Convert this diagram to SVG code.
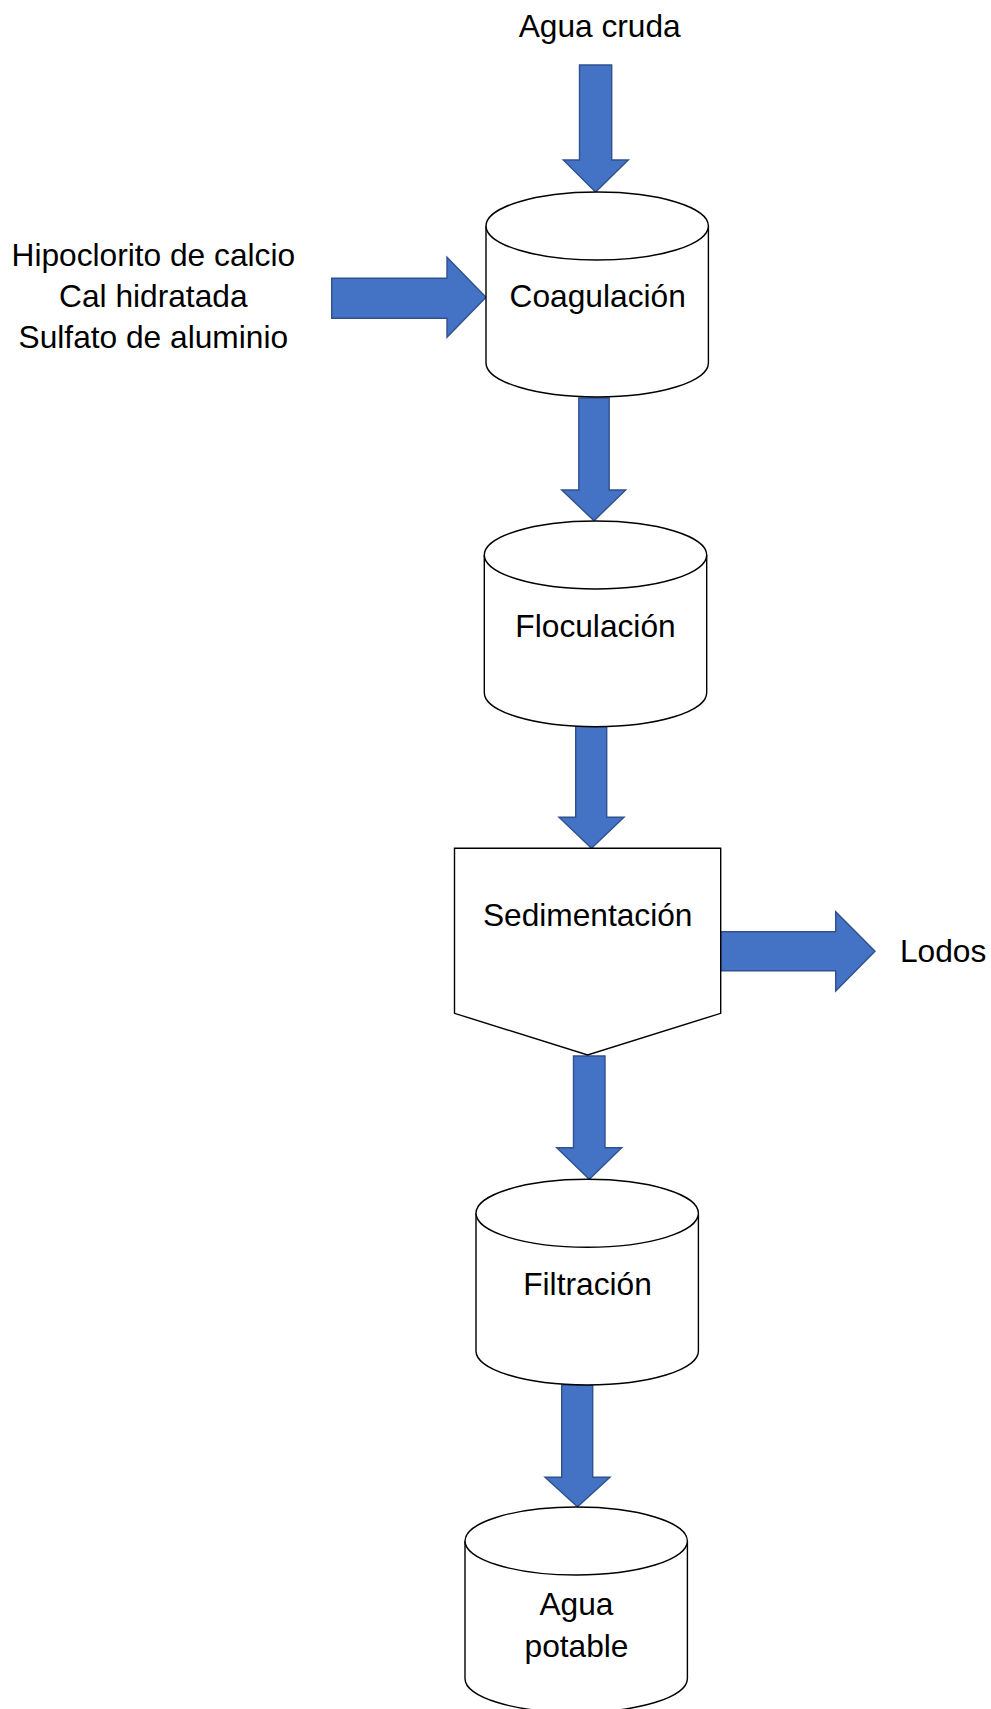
<svg xmlns="http://www.w3.org/2000/svg" width="991" height="1709" viewBox="0 0 991 1709">
<style>
.node{fill:#FFFFFF;stroke:#000000;stroke-width:1.4;}
.arr{fill:#4472C4;stroke:#2F528F;stroke-width:1.4;stroke-linejoin:miter;}
.t{font-family:"Liberation Sans",Arial,sans-serif;font-size:31.7px;fill:#000000;}
.c{text-anchor:middle;}
</style>
<rect x="0" y="0" width="991" height="1709" fill="#FFFFFF"/>
<g id="connectors">
<polygon id="a1" class="arr" points="579.5,65 611.7,65 611.7,160 628.3,160 595.6,192 563.3,160 579.5,160"/>
<polygon id="a2" class="arr" points="578.8,398 609.2,398 609.2,490 625.7,490 594,520.7 561.7,490 578.8,490"/>
<polygon id="a3" class="arr" points="575.7,725.7 606.7,725.7 606.7,817.3 624,817.3 591.5,848.3 559,817.3 575.7,817.3"/>
<polygon id="a4" class="arr" points="573.5,1056 605,1056 605,1147.7 621.7,1147.7 589.3,1179.3 556.7,1147.7 573.5,1147.7"/>
<polygon id="a5" class="arr" points="561.7,1385 592.7,1385 592.7,1477.3 610,1477.3 577.5,1506.7 545,1477.3 561.7,1477.3"/>
<polygon id="a6" class="arr" points="331.7,278.3 447,278.3 447,257.3 486,297.3 447,337.3 447,318.3 331.7,318.3"/>
<polygon id="a7" class="arr" points="720.7,931.7 835.7,931.7 835.7,911.7 875,951.3 835.7,991 835.7,970.7 720.7,970.7"/>
</g>
<g id="agua-cruda">
<text class="t c" x="599.7" y="36.7">Agua cruda</text>
</g>
<g id="quimicos">
<text class="t c" x="153.3" y="266">Hipoclorito de calcio</text>
<text class="t c" x="153.3" y="307.3">Cal hidratada</text>
<text class="t c" x="153.3" y="348.3">Sulfato de aluminio</text>
</g>
<g id="coagulacion">
<path class="node" d="M486,226 A111.2,34 0 0 1 708.4,226 V363 A111.2,34 0 0 1 486,363 Z"/>
<path class="node" d="M486,226 A111.2,34 0 0 0 708.4,226"/>
<text class="t c" x="597.7" y="306.7">Coagulación</text>
</g>
<g id="floculacion">
<path class="node" d="M484.3,555 A111.2,34 0 0 1 706.7,555 V692.7 A111.2,34 0 0 1 484.3,692.7 Z"/>
<path class="node" d="M484.3,555 A111.2,34 0 0 0 706.7,555"/>
<text class="t c" x="595.5" y="636.7">Floculación</text>
</g>
<g id="sedimentacion">
<polygon class="node" points="454.5,848.3 720.7,848.3 720.7,1013.3 587.6,1055 454.5,1013.3"/>
<text class="t c" x="587.7" y="926">Sedimentación</text>
</g>
<g id="lodos">
<text class="t" x="900" y="961.7">Lodos</text>
</g>
<g id="filtracion">
<path class="node" d="M476,1213.3 A111.2,34 0 0 1 698.4,1213.3 V1351 A111.2,34 0 0 1 476,1351 Z"/>
<path class="node" d="M476,1213.3 A111.2,34 0 0 0 698.4,1213.3"/>
<text class="t c" x="587.5" y="1295">Filtración</text>
</g>
<g id="agua-potable">
<path class="node" d="M465,1541 A111.2,34 0 0 1 687.4,1541 V1678.5 A111.2,34 0 0 1 465,1678.5 Z"/>
<path class="node" d="M465,1541 A111.2,34 0 0 0 687.4,1541"/>
<text class="t c" x="576.5" y="1615">Agua</text>
<text class="t c" x="576.5" y="1656.7">potable</text>
</g>
</svg>
